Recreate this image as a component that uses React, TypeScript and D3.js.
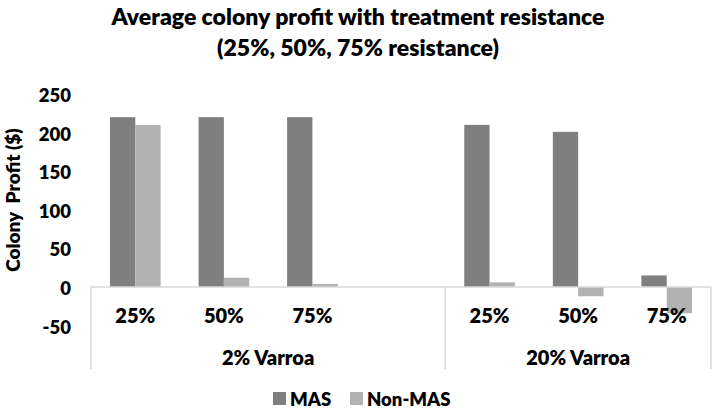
import React from "react";
import * as d3 from "d3";

const titleLines = ["Average colony profit with treatment resistance", "(25%, 50%, 75% resistance)"];
const yAxisTitle = "Colony  Profit ($)";
const categories = ["25%", "50%", "75%", "", "25%", "50%", "75%"];
const categoryGroups = ["2% Varroa", "2% Varroa", "2% Varroa", "2% Varroa", "20% Varroa", "20% Varroa", "20% Varroa"];
const groupNames = ["2% Varroa", "20% Varroa"];
const seriesNames = ["MAS", "Non-MAS"];
const masValues: (number | null)[] = [220, 220, 220, null, 210, 201, 15];
const nonMasValues: (number | null)[] = [210, 12, 4, null, 6, -12, -34];
const yTicks = [-50, 0, 50, 100, 150, 200, 250];
const seriesColors = ["#7f7f7f", "#b2b2b2"];

const W = 714;
const H = 409;
const FONT = "Lato, 'Open Sans', sans-serif";

export default function App() {
  const plotLeft = 91;
  const plotRight = 711;
  const y = d3.scaleLinear().domain([-50, 250]).range([325.6, 94]);
  const idx = categories.map((_, i) => String(i));
  const x0 = d3.scaleBand<string>().domain(idx).range([plotLeft, plotRight]).paddingInner(0).paddingOuter(0);
  const x1 = d3.scaleBand<string>().domain(seriesNames).range([0, x0.bandwidth()]).paddingInner(0).paddingOuter(0.75);
  const series = [masValues, nonMasValues];
  const y0 = y(0);
  const axisColor = "#d9d9d9";
  const sepBottom = 369;

  const groupExtents = groupNames.map((g) => {
    const members = idx.filter((_, i) => categoryGroups[i] === g);
    const start = x0(members[0])!;
    const end = x0(members[members.length - 1])! + x0.bandwidth();
    return { g, start, end };
  });
  const separators = [plotLeft, ...groupExtents.map((e) => e.end)];

  return (
    <svg width={W} height={H} style={{ position: "absolute", left: 0, top: 0, background: "#fff" }} fontFamily={FONT}>
      <rect x={0} y={0} width={W} height={H} fill="#fff" />
      {titleLines.map((t, i) => (
        <text key={i} x={W / 2 + 1} y={16 + i * 31} textAnchor="middle" dominantBaseline="central" fontSize={23} fontWeight={800} fill="#000">
          {t}
        </text>
      ))}
      <text
        transform={`translate(12,200) rotate(-90)`}
        textAnchor="middle"
        dominantBaseline="central"
        fontSize={19}
        fontWeight={800}
        fill="#000"
        style={{ whiteSpace: "pre" }}
      >
        {yAxisTitle}
      </text>
      {yTicks.map((t) => (
        <text key={t} x={71} y={y(t) + 1} textAnchor="end" dominantBaseline="central" fontSize={18.5} fontWeight={800} fill="#000">
          {t}
        </text>
      ))}
      {categories.map((_, i) =>
        series.map((vals, s) => {
          const v = vals[i];
          if (v === null || v === undefined) return null;
          const bx = x0(String(i))! + x1(seriesNames[s])!;
          const top = Math.min(y(v), y0);
          const h = Math.abs(y(v) - y0);
          return <rect key={`${i}-${s}`} x={bx} y={top} width={x1.bandwidth()} height={h} fill={seriesColors[s]} />;
        })
      )}
      <line x1={plotLeft} x2={plotRight} y1={y0} y2={y0} stroke={axisColor} strokeWidth={1.5} />
      {separators.map((sx, i) => (
        <line key={i} x1={sx} x2={sx} y1={y0} y2={sepBottom} stroke={axisColor} strokeWidth={1.5} />
      ))}
      {categories.map((c, i) => (
        <text key={i} x={x0(String(i))! + x0.bandwidth() / 2} y={315} textAnchor="middle" dominantBaseline="central" fontSize={20} fontWeight={800} fill="#000">
          {c}
        </text>
      ))}
      {groupExtents.map((e) => (
        <text key={e.g} x={(e.start + e.end) / 2} y={357} textAnchor="middle" dominantBaseline="central" fontSize={20} fontWeight={800} fill="#000">
          {e.g}
        </text>
      ))}
      <g>
        <rect x={273} y={392} width={13} height={13} fill={seriesColors[0]} />
        <text x={290} y={399} dominantBaseline="central" fontSize={18.5} fontWeight={800} fill="#000">
          {seriesNames[0]}
        </text>
        <rect x={350} y={392} width={13} height={13} fill={seriesColors[1]} />
        <text x={367} y={399} dominantBaseline="central" fontSize={18.5} fontWeight={800} fill="#000">
          {seriesNames[1]}
        </text>
      </g>
    </svg>
  );
}
